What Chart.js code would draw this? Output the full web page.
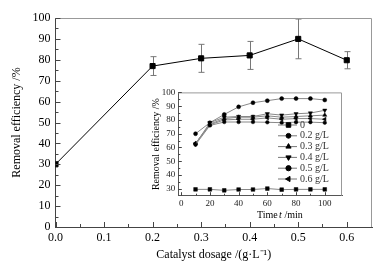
<!DOCTYPE html>
<html lang="en">
<head>
    <meta charset="UTF-8">
    <title>Removal efficiency vs catalyst dosage</title>
    <script src="https://cdn.jsdelivr.net/npm/chart.js"></script>
    <style>
        body { margin: 0; background: #fff; }
        #wrap { position: relative; width: 381px; height: 268px; }
        #mainChart { position: absolute; left: 0; top: 0; }
        #insetChart { position: absolute; left: 135px; top: 84px; }
    </style>
</head>
<body>
<div id="wrap">
    <canvas id="mainChart" width="381" height="268"></canvas>
    <canvas id="insetChart" width="212" height="140"></canvas>
</div>

<script>
    // main plot: removal efficiency vs catalyst dosage
    const dosage = [0, 0.2, 0.3, 0.4, 0.5, 0.6];
    const efficiency = [30, 77, 80.7, 82.1, 90, 79.8];
    const errorBars = [0, 4.5, 6.7, 6.7, 9.5, 4.1];
    const dosageTicks = [0, 0.1, 0.2, 0.3, 0.4, 0.5, 0.6];
    const dosageMinor = [0.05, 0.15, 0.25, 0.35, 0.45, 0.55];
    const effTicks = [0, 10, 20, 30, 40, 50, 60, 70, 80, 90, 100];
    const effMinor = [5, 15, 25, 35, 45, 55, 65, 75, 85, 95];

    // inset: removal efficiency vs time for each dosage
    const time = [10, 20, 30, 40, 50, 60, 70, 80, 90, 100];
    const dose0 = [29.6, 29.6, 28.9, 29.5, 29.5, 30.2, 29.4, 29.6, 29.6, 29.6];
    const dose02 = [62, 76, 78.5, 78.5, 78.5, 78.3, 78, 78.4, 78.4, 78];
    const dose03 = [63, 77, 81, 82, 82, 83, 82, 82.5, 83, 83.5];
    const dose04 = [62.5, 78, 82, 82.5, 82.5, 84.5, 83.5, 84.5, 85, 87];
    const dose05 = [70, 78, 84, 89.5, 92.5, 94, 95.5, 95.5, 95.5, 94.5];
    const dose06 = [63, 76.5, 80, 80.5, 80.5, 81.5, 80.5, 81, 81, 80.5];
    const insetLabels = ['0', '0.2 g/L', '0.3 g/L', '0.4 g/L', '0.5 g/L', '0.6 g/L'];
    const timeTicks = [0, 20, 40, 60, 80, 100];
    const timeMinor = [10, 30, 50, 70, 90];
    const insetTicks = [30, 40, 50, 60, 70, 80, 90, 100];
    const insetMinor = [35, 45, 55, 65, 75, 85, 95];

    const serif = 'Liberation Serif';

    function pts(xs, ys) {
        return xs.map((x, i) => ({ x: x, y: ys[i] }));
    }

    // inward ticks + grey top/right frame
    function frameTicks(opts) {
        return {
            id: 'frameTicks',
            afterDraw(chart) {
                const ctx = chart.ctx;
                const a = chart.chartArea;
                const xs = chart.scales.x, ys = chart.scales.y;
                ctx.save();
                ctx.strokeStyle = '#999';
                ctx.lineWidth = 1;
                ctx.beginPath();
                ctx.moveTo(a.left, a.top + 0.5);
                ctx.lineTo(a.right - 0.5, a.top + 0.5);
                ctx.lineTo(a.right - 0.5, a.bottom);
                ctx.stroke();
                ctx.strokeStyle = '#444';
                ctx.beginPath();
                const tick = (vals, len, horiz) => vals.forEach(v => {
                    if (horiz) {
                        const px = Math.round(xs.getPixelForValue(v)) + 0.5;
                        ctx.moveTo(px, a.bottom);
                        ctx.lineTo(px, a.bottom - len);
                    } else {
                        const py = Math.round(ys.getPixelForValue(v)) + 0.5;
                        ctx.moveTo(a.left, py);
                        ctx.lineTo(a.left + len, py);
                    }
                });
                tick(opts.xMajor, opts.major, true);
                tick(opts.xMinor, opts.minor, true);
                tick(opts.yMajor, opts.major, false);
                tick(opts.yMinor, opts.minor, false);
                ctx.stroke();
                ctx.restore();
            }
        };
    }

    const errorBarPlugin = {
        id: 'errorBars',
        beforeDatasetsDraw(chart) {
            const ctx = chart.ctx;
            const xs = chart.scales.x, ys = chart.scales.y;
            ctx.save();
            ctx.strokeStyle = '#777';
            ctx.lineWidth = 1;
            ctx.beginPath();
            dosage.forEach((d, i) => {
                if (!errorBars[i]) return;
                const px = Math.round(xs.getPixelForValue(d)) + 0.5;
                const top = ys.getPixelForValue(efficiency[i] + errorBars[i]);
                const bot = ys.getPixelForValue(efficiency[i] - errorBars[i]);
                ctx.moveTo(px, top); ctx.lineTo(px, bot);
                ctx.moveTo(px - 3, top); ctx.lineTo(px + 3, top);
                ctx.moveTo(px - 3, bot); ctx.lineTo(px + 3, bot);
            });
            ctx.stroke();
            ctx.restore();
        }
    };

    new Chart(document.getElementById('mainChart'), {
        type: 'line',
        data: {
            datasets: [{
                data: pts(dosage, efficiency),
                borderColor: '#000',
                borderWidth: 1,
                pointStyle: 'rect',
                pointRadius: 3.6,
                pointBackgroundColor: '#000',
                pointBorderColor: '#000',
                tension: 0,
                clip: 0
            }]
        },
        options: {
            responsive: false,
            animation: false,
            layout: { padding: { top: 18, right: 9, left: 0, bottom: 0 } },
            plugins: { legend: { display: false }, tooltip: { enabled: false } },
            scales: {
                x: {
                    type: 'linear', min: 0, max: 0.652,
                    afterBuildTicks: s => { s.ticks = dosageTicks.map(v => ({ value: v })); },
                    afterFit: s => { s.height = 41; },
                    grid: { display: false, drawTicks: false },
                    border: { color: '#444' },
                    ticks: { callback: v => v.toFixed(1), color: '#000', font: { family: serif, size: 12 }, padding: 4, maxRotation: 0 },
                    title: { display: true, text: 'Catalyst dosage /(g·L⁻¹)', color: '#000', font: { family: serif, size: 12 }, padding: { top: 0, bottom: 6 } }
                },
                y: {
                    min: 0, max: 100,
                    afterBuildTicks: s => { s.ticks = effTicks.map(v => ({ value: v })); },
                    afterFit: s => { s.width = 55.5; },
                    grid: { display: false, drawTicks: false },
                    border: { color: '#444' },
                    ticks: { color: '#000', font: { family: serif, size: 12 }, padding: 5 },
                    title: { display: true, text: 'Removal efficiency /%', color: '#000', font: { family: serif, size: 12 }, padding: { top: 9.5, bottom: 0 } }
                }
            }
        },
        plugins: [errorBarPlugin, frameTicks({ xMajor: dosageTicks, xMinor: dosageMinor, yMajor: effTicks, yMinor: effMinor, major: 5, minor: 3 })]
    });

    // inset
    const insetSeries = [dose0, dose02, dose03, dose04, dose05, dose06];
    const insetStyles = [
        { pointStyle: 'rect', rotation: 0, radius: 2.6 },
        { pointStyle: 'circle', rotation: 0, radius: 1.8 },
        { pointStyle: 'triangle', rotation: 0, radius: 2.4 },
        { pointStyle: 'triangle', rotation: 180, radius: 2.4 },
        { pointStyle: 'circle', rotation: 0, radius: 2 },
        { pointStyle: 'triangle', rotation: -90, radius: 2.4 }
    ];

    const insetLegend = {
        id: 'insetLegend',
        afterDraw(chart) {
            const ctx = chart.ctx;
            ctx.save();
            ctx.font = '10px ' + serif;
            ctx.textBaseline = 'middle';
            insetLabels.forEach((lab, i) => {
                const y = 41 + i * 10.8;
                ctx.strokeStyle = '#777';
                ctx.lineWidth = 1;
                ctx.beginPath();
                ctx.moveTo(143, y); ctx.lineTo(162, y);
                ctx.stroke();
                ctx.fillStyle = '#000';
                ctx.strokeStyle = '#000';
                const st = insetStyles[i];
                Chart.helpers.drawPoint(ctx, { pointStyle: st.pointStyle, rotation: st.rotation, radius: st.radius + 0.6, borderWidth: 1 }, 153.5, y);
                ctx.fillStyle = '#333';
                ctx.fillText(lab, 165, y);
            });
            // x title with italic t
            ctx.fillStyle = '#000';
            ctx.textBaseline = 'middle';
            ctx.fillText('Time', 122, 131);
            ctx.font = 'italic 10px ' + serif;
            ctx.fillText('t', 144, 131);
            ctx.font = '10px ' + serif;
            ctx.fillText(' /min', 147, 131);
            ctx.restore();
        }
    };

    new Chart(document.getElementById('insetChart'), {
        type: 'line',
        data: {
            datasets: insetSeries.map((s, i) => ({
                label: insetLabels[i],
                data: pts(time, s),
                borderColor: '#888',
                borderWidth: 1,
                pointStyle: insetStyles[i].pointStyle,
                pointRotation: insetStyles[i].rotation,
                pointRadius: insetStyles[i].radius,
                pointBackgroundColor: '#000',
                pointBorderColor: '#000',
                pointBorderWidth: 0.5,
                tension: 0
            }))
        },
        options: {
            responsive: false,
            animation: false,
            layout: { padding: { top: 7.5, right: 5, left: 0, bottom: 0 } },
            plugins: { legend: { display: false }, tooltip: { enabled: false } },
            scales: {
                x: {
                    type: 'linear', min: -2, max: 112,
                    afterBuildTicks: s => { s.ticks = timeTicks.map(v => ({ value: v })); },
                    afterFit: s => { s.height = 28.3; },
                    grid: { display: false, drawTicks: false },
                    border: { color: '#555' },
                    ticks: { color: '#222', font: { family: serif, size: 9 }, padding: 3, maxRotation: 0 }
                },
                y: {
                    min: 25, max: 100,
                    afterBuildTicks: s => { s.ticks = insetTicks.map(v => ({ value: v })); },
                    afterFit: s => { s.width = 43.3; },
                    grid: { display: false, drawTicks: false },
                    border: { color: '#555' },
                    ticks: { color: '#222', font: { family: serif, size: 9 }, padding: 3 },
                    title: { display: true, text: 'Removal efficiency /%', color: '#000', font: { family: serif, size: 10 }, padding: { top: 15.7, bottom: 0 } }
                }
            }
        },
        plugins: [insetLegend, frameTicks({ xMajor: timeTicks, xMinor: timeMinor, yMajor: insetTicks, yMinor: insetMinor, major: 3.5, minor: 2 })]
    });
</script>
</body>
</html>
